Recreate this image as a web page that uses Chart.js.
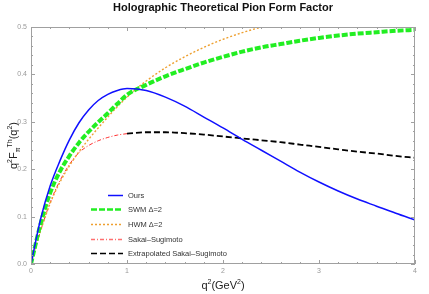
<!DOCTYPE html>
<html>
<head>
<meta charset="utf-8">
<script src="https://cdn.jsdelivr.net/npm/chart.js@4"></script>
<style>
html, body { margin: 0; padding: 0; background: #fff; }
#wrap { width: 429px; height: 294px; }
</style>
</head>
<body>
<div id="wrap"><canvas id="grafico" width="429" height="294"></canvas></div>
<script>
// valores (q^2 en GeV^2)
const xOurs = [0, 0.1, 0.2, 0.3, 0.4, 0.5, 0.6, 0.7, 0.8, 0.9, 1.0, 1.2, 1.4, 1.6, 1.8, 2.0, 2.2, 2.4, 2.6, 2.8, 3.0, 3.2, 3.4, 3.6, 3.8, 4.0];
const yOurs = [0, 0.095, 0.165, 0.217, 0.262, 0.298, 0.325, 0.345, 0.358, 0.366, 0.370, 0.366, 0.352, 0.333, 0.310, 0.287, 0.263, 0.240, 0.217, 0.194, 0.173, 0.154, 0.137, 0.122, 0.107, 0.093];

const xSWM = [0, 0.1, 0.2, 0.3, 0.4, 0.5, 0.6, 0.7, 0.8, 0.9, 1.0, 1.2, 1.4, 1.6, 1.8, 2.0, 2.2, 2.4, 2.6, 2.8, 3.0, 3.2, 3.4, 3.6, 3.8, 4.0];
const ySWM = [0, 0.085, 0.150, 0.195, 0.228, 0.256, 0.279, 0.299, 0.318, 0.338, 0.357, 0.378, 0.396, 0.411, 0.425, 0.437, 0.448, 0.457, 0.464, 0.471, 0.477, 0.482, 0.486, 0.489, 0.492, 0.494];

const xHWM = [0, 0.1, 0.2, 0.3, 0.4, 0.5, 0.6, 0.7, 0.8, 0.9, 1.0, 1.1, 1.2, 1.4, 1.6, 1.8, 2.0, 2.2, 2.4, 2.6];
const yHWM = [0, 0.070, 0.128, 0.172, 0.207, 0.237, 0.263, 0.287, 0.310, 0.332, 0.352, 0.370, 0.386, 0.414, 0.437, 0.457, 0.474, 0.488, 0.500, 0.511];

const xSS = [0, 0.1, 0.2, 0.3, 0.4, 0.5, 0.6, 0.7, 0.8, 0.9, 1.0];
const ySS = [0, 0.070, 0.130, 0.175, 0.210, 0.235, 0.250, 0.260, 0.267, 0.272, 0.275];

const xExt = [1.0, 1.2, 1.4, 1.6, 1.8, 2.0, 2.2, 2.4, 2.6, 2.8, 3.0, 3.2, 3.4, 3.6, 3.8, 4.0];
const yExt = [0.275, 0.278, 0.278, 0.276, 0.273, 0.269, 0.265, 0.261, 0.257, 0.252, 0.247, 0.242, 0.237, 0.233, 0.228, 0.224];

const etiquetas = ['Ours', 'SWM \u0394=2', 'HWM \u0394=2', 'Sakai\u2013Sugimoto', 'Extrapolated Sakai\u2013Sugimoto'];
const xTicks = [0, 1, 2, 3, 4];
const yTicks = [0, 0.1, 0.2, 0.3, 0.4, 0.5];

function puntos(xs, ys) {
  return xs.map((x, i) => ({ x: x, y: ys[i] }));
}

const estilos = [
  { color: '#1010ff', ancho: 1.5, dash: [] },
  { color: '#22ee22', ancho: 4, dash: [6, 2] },
  { color: '#eea030', ancho: 1.4, dash: [2, 2] },
  { color: '#ff3030', ancho: 1, dash: [4, 2, 1, 2] },
  { color: '#000000', ancho: 1.8, dash: [6, 3] }
];

const series = [
  puntos(xOurs, yOurs),
  puntos(xSWM, ySWM),
  puntos(xHWM, yHWM),
  puntos(xSS, ySS),
  puntos(xExt, yExt)
];

const fuente = '"Liberation Sans", Arial, sans-serif';

// dibuja texto con super/subindices, centrado en (cx, cy)
function textoRico(ctx, partes, cx, cy, base) {
  let total = 0;
  partes.forEach(p => {
    ctx.font = (p.s || base) + 'px ' + fuente;
    p.w = ctx.measureText(p.t).width;
    total += p.w;
  });
  let x = cx - total / 2;
  partes.forEach(p => {
    ctx.font = (p.s || base) + 'px ' + fuente;
    ctx.fillText(p.t, x, cy + (p.dy || 0));
    x += p.w;
  });
}

const marcoPlugin = {
  id: 'marco',
  afterDatasetsDraw(chart) {
    const { ctx, chartArea: a, scales } = chart;
    ctx.save();
    ctx.strokeStyle = '#a0a0a0';
    ctx.lineWidth = 1;
    ctx.strokeRect(a.left + 0.5, a.top + 0.5, a.right - a.left - 1, a.bottom - a.top - 1);
    ctx.beginPath();
    // ticks eje x (mayor cada 1, menor cada 0.2)
    for (let i = 0; i <= 20; i++) {
      const v = i * 0.2;
      const px = Math.round(scales.x.getPixelForValue(v)) + 0.5;
      const len = (i % 5 === 0) ? 4 : 2;
      ctx.moveTo(px, a.bottom); ctx.lineTo(px, a.bottom - len);
      ctx.moveTo(px, a.top); ctx.lineTo(px, a.top + len);
    }
    // ticks eje y (mayor cada 0.1, menor cada 0.02)
    for (let i = 0; i <= 25; i++) {
      const v = i * 0.02;
      const py = Math.round(scales.y.getPixelForValue(v)) + 0.5;
      const len = (i % 5 === 0) ? 4 : 2;
      ctx.moveTo(a.left, py); ctx.lineTo(a.left + len, py);
      ctx.moveTo(a.right, py); ctx.lineTo(a.right - len, py);
    }
    ctx.stroke();
    ctx.restore();
  },
  afterDraw(chart) {
    const { ctx, chartArea: a } = chart;
    ctx.save();
    // titulo
    ctx.fillStyle = '#111';
    ctx.textAlign = 'center';
    ctx.textBaseline = 'middle';
    ctx.font = 'bold 11px ' + fuente;
    ctx.fillText('Holographic Theoretical Pion Form Factor', 223, 8);

    // titulo eje x
    ctx.textAlign = 'left';
    ctx.textBaseline = 'alphabetic';
    ctx.fillStyle = '#222';
    textoRico(ctx, [
      { t: 'q' }, { t: '2', s: 7, dy: -5 }, { t: '(GeV' }, { t: '2', s: 7, dy: -5 }, { t: ')' }
    ], (a.left + a.right) / 2, 289, 11);

    // titulo eje y
    ctx.save();
    ctx.translate(13, (a.top + a.bottom) / 2);
    ctx.rotate(-Math.PI / 2);
    textoRico(ctx, [
      { t: 'q' }, { t: '2', s: 7, dy: -5 }, { t: 'F' }, { t: '\u03c0', s: 7, dy: 3 },
      { t: 'Th', s: 7, dy: -5 }, { t: '(q' }, { t: '2', s: 7, dy: -5 }, { t: ')' }
    ], 0, 4, 11);
    ctx.restore();

    // leyenda
    const filas = [195, 209, 224, 239, 253];
    const colLeyenda = ['#1010ff', '#22ee22', '#eea030', '#ff7070', '#000000'];
    ctx.font = '7.5px ' + fuente;
    ctx.textBaseline = 'middle';
    ctx.fillStyle = '#333';
    estilos.forEach((e, i) => {
      const y = filas[i] + 0.5;
      const x0 = i === 0 ? 108 : 91;
      ctx.beginPath();
      ctx.strokeStyle = colLeyenda[i];
      ctx.lineWidth = i === 1 ? 2.5 : (i === 3 ? 1.5 : (i === 4 ? 1.5 : e.ancho));
      ctx.setLineDash(e.dash);
      ctx.moveTo(x0, y);
      ctx.lineTo(123, y);
      ctx.stroke();
      ctx.setLineDash([]);
      ctx.fillText(etiquetas[i], 128, y);
    });
    ctx.restore();
  }
};

new Chart(document.getElementById('grafico').getContext('2d'), {
  type: 'line',
  data: {
    datasets: series.map((d, i) => ({
      label: etiquetas[i],
      data: d,
      borderColor: estilos[i].color,
      borderWidth: estilos[i].ancho,
      borderDash: estilos[i].dash,
      pointRadius: 0,
      fill: false,
      cubicInterpolationMode: 'monotone'
    }))
  },
  options: {
    responsive: false,
    animation: false,
    layout: { padding: { top: 27, right: 14, left: 0, bottom: 0 } },
    plugins: {
      legend: { display: false },
      title: { display: false },
      tooltip: { enabled: false }
    },
    scales: {
      x: {
        type: 'linear',
        min: 0,
        max: 4,
        afterBuildTicks: s => { s.ticks = xTicks.map(v => ({ value: v })); },
        ticks: { color: '#999', font: { size: 7, family: fuente }, padding: 3, callback: v => String(v) },
        grid: { display: false, drawTicks: false },
        border: { display: false },
        afterFit: s => { s.height = 30; }
      },
      y: {
        type: 'linear',
        min: 0,
        max: 0.5,
        afterBuildTicks: s => { s.ticks = yTicks.map(v => ({ value: v })); },
        ticks: { color: '#999', font: { size: 7, family: fuente }, padding: 4, callback: v => v.toFixed(1) },
        grid: { display: false, drawTicks: false },
        border: { display: false },
        afterFit: s => { s.width = 31; }
      }
    }
  },
  plugins: [marcoPlugin]
});
</script>
</body>
</html>
